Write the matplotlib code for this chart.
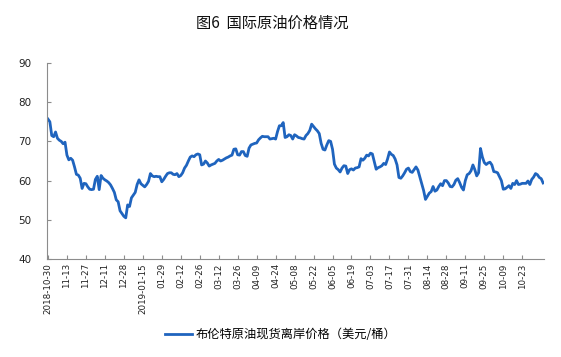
import matplotlib
matplotlib.use("Agg")
import matplotlib.pyplot as plt

plt.rcParams['font.family'] = ['Noto Sans CJK SC', 'DejaVu Sans']

title = "图6  国际原油价格情况"
series_name = "布伦特原油现货离岸价格（美元/桶）"

tick_labels = ["2018-10-30", "11-13", "11-27", "12-11", "12-28", "2019-01-15",
               "01-29", "02-12", "02-26", "03-12", "03-26", "04-09", "04-24",
               "05-08", "05-22", "06-05", "06-19", "07-03", "07-17", "07-31",
               "08-14", "08-28", "09-11", "09-25", "10-09", "10-23"]
tick_step = 10

brent = [
    75.7, 75.0, 71.5, 71.2, 72.4, 70.8, 70.3, 70.0, 69.4, 69.8,
    66.5, 65.3, 65.7, 65.2, 63.5, 61.6, 61.4, 60.6, 58.0, 59.3,
    59.2, 58.4, 57.8, 57.7, 57.8, 60.3, 61.1, 57.7, 61.3, 60.6,
    60.2, 59.9, 59.5, 58.9, 58.0, 57.0, 55.1, 54.6, 52.3, 51.6,
    50.9, 50.5, 53.8, 53.4, 55.6, 56.3, 57.0, 59.0, 60.2, 59.2,
    58.8, 58.4, 59.0, 59.8, 61.8, 61.2, 61.0, 61.1, 61.0, 61.0,
    59.7, 60.3, 61.1, 61.8, 62.0, 62.0, 61.6, 61.5, 61.8, 61.0,
    61.3, 62.0, 63.2, 63.9, 65.0, 66.0, 66.3, 66.1, 66.6, 66.8,
    66.6, 64.0, 64.2, 65.0, 64.5, 63.7, 64.0, 64.2, 64.4, 65.0,
    65.4, 65.0, 65.2, 65.5, 65.8, 66.0, 66.3, 66.5, 68.0, 68.1,
    66.6, 66.5, 67.4, 67.4, 66.4, 66.2, 68.3, 69.1, 69.3, 69.5,
    69.6, 70.4, 70.9, 71.3, 71.2, 71.2, 71.2, 70.6, 70.7, 70.8,
    70.6, 72.5, 74.0, 74.0, 74.8, 71.0, 71.2, 71.7, 71.5, 70.6,
    71.7, 71.4, 71.0, 70.9, 70.7, 70.6, 71.5, 72.0, 72.8, 74.4,
    73.8, 73.2, 72.7, 72.0, 69.5, 68.0, 67.8, 69.1, 70.2, 70.0,
    68.0, 64.2, 63.2, 62.8, 62.2, 63.2, 63.8, 63.7, 61.8, 62.8,
    63.0, 62.7, 63.2, 63.3, 63.5, 65.6, 65.2, 65.7, 66.5, 66.3,
    67.0, 66.8, 64.8, 62.9, 63.3, 63.5, 63.8, 64.4, 64.1, 65.5,
    67.3, 66.7, 66.4, 65.5, 64.0, 60.8, 60.6, 61.2, 62.0, 62.9,
    63.2, 62.3, 62.1, 62.8, 63.5, 62.7, 61.0, 59.2, 57.5, 55.2,
    56.0, 56.8, 57.2, 58.5, 57.3, 57.6, 58.5, 59.2, 58.7, 60.0,
    60.0, 59.4, 58.5, 58.4, 59.0, 60.1, 60.5, 59.5, 58.3, 57.6,
    60.0, 61.5, 61.8, 62.5, 64.0, 62.8, 61.2, 62.0, 68.2, 66.0,
    64.6, 64.1, 64.5, 64.7, 64.0, 62.3, 62.2, 62.0, 61.0, 60.0,
    57.8, 57.9, 58.3, 58.7, 58.0, 59.3, 59.0, 60.0, 59.0, 59.1,
    59.3, 59.3, 59.3, 59.9, 59.0, 60.3, 60.9, 61.8, 61.5, 60.8,
    60.5, 59.4,
]

line_color = "#1f64be"
axis_color = "#8c8c8c"

fig = plt.figure(figsize=(5.61, 3.57), dpi=100)
ax = fig.add_axes([0.0838, 0.2745, 0.886, 0.549])

x = list(range(len(brent)))
ax.plot(x, brent, color=line_color, lw=2.0, label=series_name, solid_joinstyle='round')

ax.set_xlim(-0.5, len(brent) - 0.5)
ax.set_ylim(40, 90)
ax.set_yticks([40, 50, 60, 70, 80, 90])
ax.set_xticks([i * tick_step for i in range(len(tick_labels))])
ax.set_xticklabels(tick_labels, rotation=90, fontsize=6.3, family=['DejaVu Sans'], color="#222222")

for s in ['top', 'right']:
    ax.spines[s].set_visible(False)
for s in ['left', 'bottom']:
    ax.spines[s].set_color(axis_color)
    ax.spines[s].set_linewidth(0.8)

ax.tick_params(axis='both', direction='in', length=3, width=0.8, color=axis_color)
ax.tick_params(axis='x', pad=3)
ax.tick_params(axis='y', labelsize=7.5, labelcolor="#222222", pad=11)
for lab in ax.get_yticklabels():
    lab.set_family(['DejaVu Sans'])

fig.text(0.485, 0.935, title, ha='center', va='center', fontsize=11, color="#111111")

fig.legend(loc='center', bbox_to_anchor=(0.5, 0.063), frameon=False,
           fontsize=8.8, handlelength=2.2, handletextpad=0.3)

fig.savefig("out.png", dpi=100)
